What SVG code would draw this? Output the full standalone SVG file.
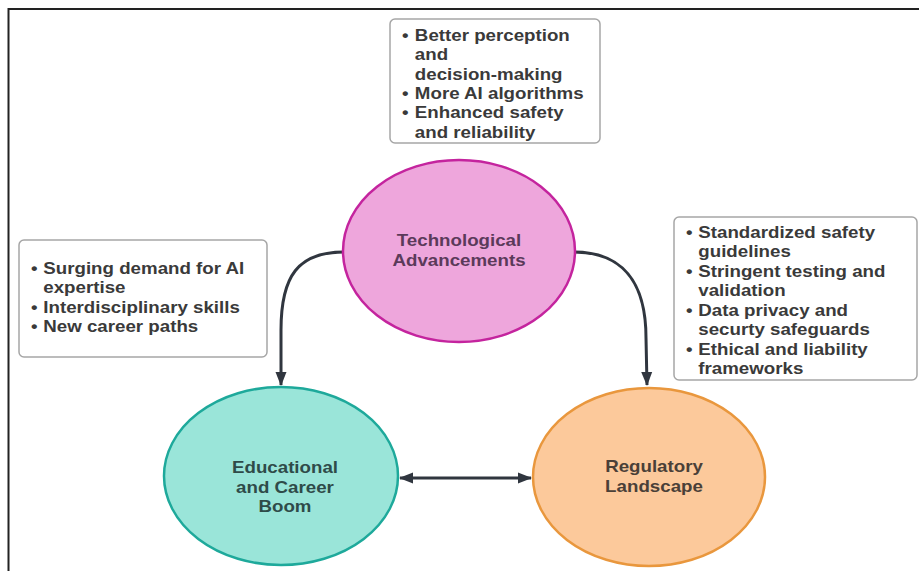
<svg xmlns="http://www.w3.org/2000/svg" width="919" height="571" viewBox="0 0 919 571">
<style>
.box{fill:#fff;stroke:#a6a6a6;stroke-width:1.5}
.bt{font-family:"Liberation Sans",Arial,sans-serif;font-weight:bold;font-size:16px;fill:#3a3a3a}
.et{font-family:"Liberation Sans",Arial,sans-serif;font-weight:bold;font-size:16px;text-anchor:middle}
.con{fill:none;stroke:#30363f;stroke-width:3}
</style>
<defs>
<marker id="ah" markerUnits="userSpaceOnUse" markerWidth="14" markerHeight="14" viewBox="0 0 14 14" refX="13" refY="7" orient="auto-start-reverse">
<path d="M0,1.5 L14,7 L0,12.5 Z" fill="#30363f"/>
</marker>
</defs>
<rect x="0" y="0" width="919" height="571" fill="#fff"/>
<path d="M8.5,571 L8.5,9 L919,9" fill="none" stroke="#222" stroke-width="2"/>
<g id="connectors">
<path class="con" d="M344,252 C298,252 281,276 281,330 L281,385" marker-end="url(#ah)"/>
<path class="con" d="M574,252 C622,252 646,282 646,338 L647,385" marker-end="url(#ah)"/>
<path class="con" d="M400,478 L531,478" marker-start="url(#ah)" marker-end="url(#ah)"/>
</g>
<g id="box-tech">
<rect class="box" x="390" y="19" width="210" height="124" rx="5"/>
<g transform="translate(402,0) scale(1.17,1)">
<text class="bt"><tspan x="0" y="41">•</tspan><tspan x="11" y="41">Better perception</tspan><tspan x="11" y="60">and</tspan><tspan x="11" y="80">decision-making</tspan><tspan x="0" y="99">•</tspan><tspan x="11" y="99">More AI algorithms</tspan><tspan x="0" y="118">•</tspan><tspan x="11" y="118">Enhanced safety</tspan><tspan x="11" y="138">and reliability</tspan></text>
</g>
</g>
<g id="box-edu">
<rect class="box" x="19" y="240" width="248" height="117" rx="5"/>
<g transform="translate(31,0) scale(1.17,1)">
<text class="bt"><tspan x="0" y="274">•</tspan><tspan x="10.5" y="274">Surging demand for AI</tspan><tspan x="10.5" y="293">expertise</tspan><tspan x="0" y="313">•</tspan><tspan x="10.5" y="313">Interdisciplinary skills</tspan><tspan x="0" y="332">•</tspan><tspan x="10.5" y="332">New career paths</tspan></text>
</g>
</g>
<g id="box-reg">
<rect class="box" x="674" y="217" width="243" height="163" rx="5"/>
<g transform="translate(686,0) scale(1.17,1)">
<text class="bt"><tspan x="0" y="238">•</tspan><tspan x="10.5" y="238">Standardized safety</tspan><tspan x="10.5" y="257">guidelines</tspan><tspan x="0" y="277">•</tspan><tspan x="10.5" y="277">Stringent testing and</tspan><tspan x="10.5" y="296">validation</tspan><tspan x="0" y="316">•</tspan><tspan x="10.5" y="316">Data privacy and</tspan><tspan x="10.5" y="335">securty safeguards</tspan><tspan x="0" y="355">•</tspan><tspan x="10.5" y="355">Ethical and liability</tspan><tspan x="10.5" y="374">frameworks</tspan></text>
</g>
</g>
<g id="node-tech">
<ellipse cx="459" cy="251" rx="116" ry="91" fill="#eea6dc" stroke="#c4249e" stroke-width="2.5"/>
<g transform="translate(459,0) scale(1.17,1)">
<text class="et" fill="#5b3a5a"><tspan x="0" y="246">Technological</tspan><tspan x="0" y="266">Advancements</tspan></text>
</g>
</g>
<g id="node-edu">
<ellipse cx="281" cy="476" rx="117" ry="89" fill="#9ae5d9" stroke="#1ea99b" stroke-width="2.5"/>
<g transform="translate(285,0) scale(1.17,1)">
<text class="et" fill="#2f4b49"><tspan x="0" y="473">Educational</tspan><tspan x="0" y="493">and Career</tspan><tspan x="0" y="512">Boom</tspan></text>
</g>
</g>
<g id="node-reg">
<ellipse cx="649" cy="477" rx="116" ry="89" fill="#fcc99b" stroke="#e9973d" stroke-width="2.5"/>
<g transform="translate(654,0) scale(1.17,1)">
<text class="et" fill="#4a4038"><tspan x="0" y="472">Regulatory</tspan><tspan x="0" y="492">Landscape</tspan></text>
</g>
</g>
</svg>
